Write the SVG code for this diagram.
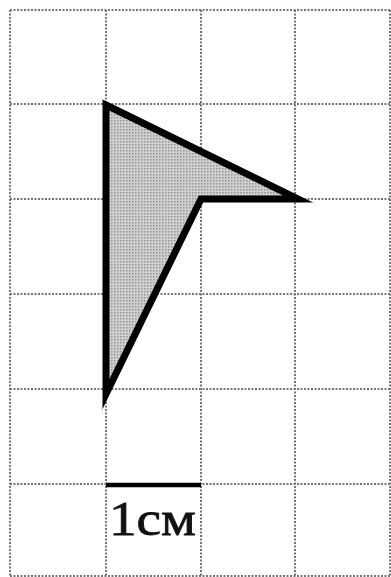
<svg xmlns="http://www.w3.org/2000/svg" width="391" height="577" viewBox="0 0 391 577">
<defs>
<pattern id="dots" width="3" height="3" patternUnits="userSpaceOnUse">
<rect width="3" height="3" fill="#d0d0d0"/>
<rect width="1.5" height="1.5" fill="#959595"/>
</pattern>
<style>
.grid{stroke:#777;stroke-width:2;stroke-dasharray:2 1.5;fill:none}
.fig{fill:url(#dots);stroke:#000;stroke-width:7;stroke-linejoin:miter;stroke-miterlimit:10}
.lbl{font-family:"Liberation Serif","DejaVu Serif",serif;font-size:48px;fill:#111;stroke:#111;stroke-width:0.8}
</style>
</defs>
<rect width="391" height="577" fill="#fff"/>
<g id="grid" class="grid">
<path d="M10 10H390M10 104H390M10 199H390M10 294H390M10 389H390M10 484H390M10 576H390"/>
<path d="M10 10V576M106 10V576M201 10V576M295 10V576M390 10V576"/>
</g>
<g id="figure">
<polygon class="fig" points="106,105 298,199 201,199 106,394"/>
</g>
<g id="scale">
<line x1="106" y1="485" x2="201" y2="485" stroke="#000" stroke-width="4.5"/>
<text class="lbl" x="109" y="535" textLength="87" lengthAdjust="spacingAndGlyphs">1см</text>
</g>
</svg>
